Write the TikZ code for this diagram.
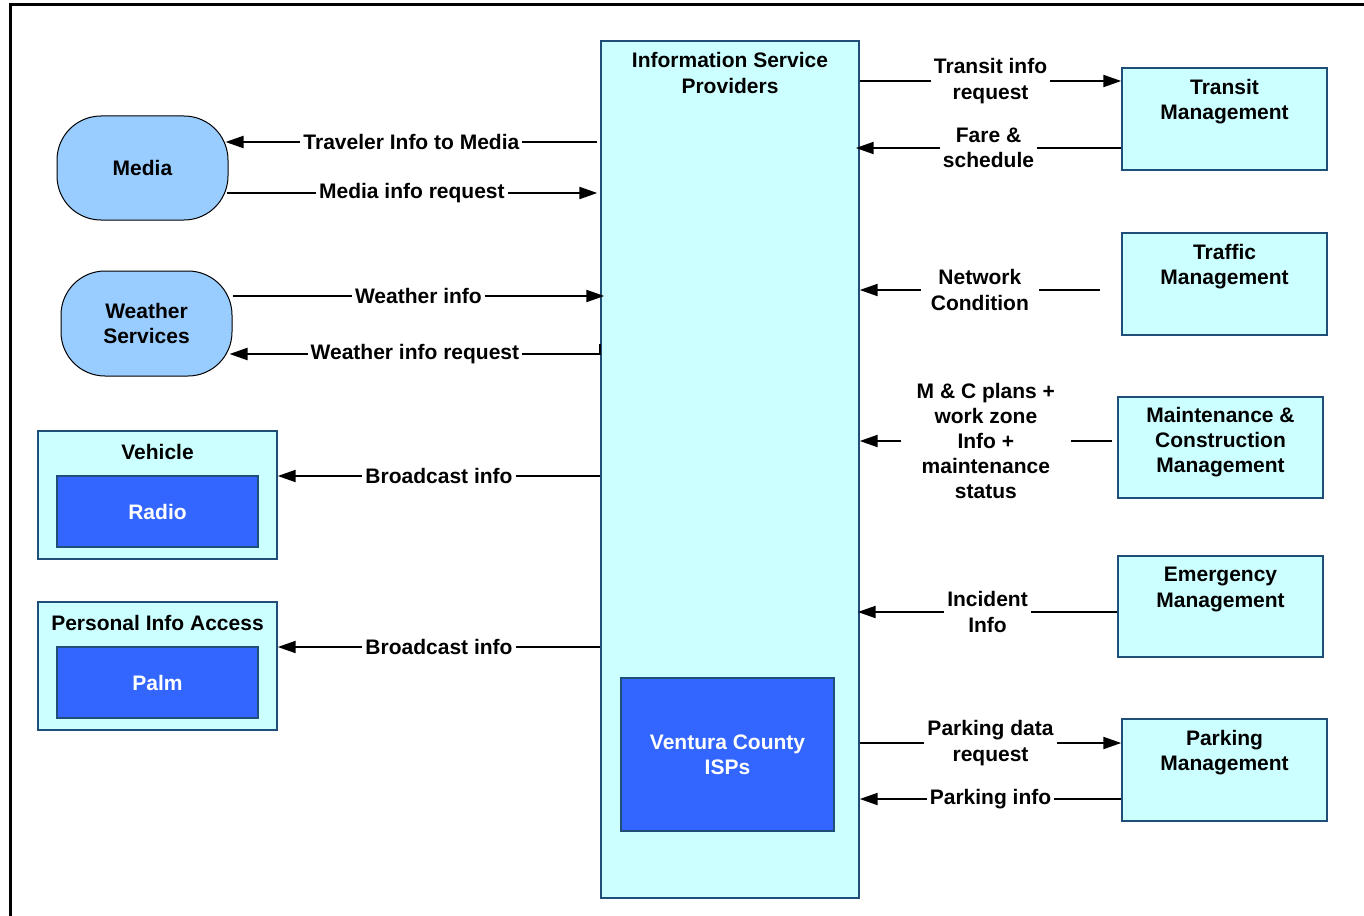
\documentclass[tikz,border=0pt]{standalone}
\usepackage{fontspec}
\setmainfont{Liberation Sans}
\usetikzlibrary{arrows.meta}
\definecolor{cyanfill}{HTML}{CCFFFF}
\definecolor{boxline}{HTML}{1F4E79}
\definecolor{rndfill}{HTML}{99CCFF}
\definecolor{deepblue}{HTML}{3366FF}
\begin{document}
\begin{tikzpicture}[x=0.5pt,y=-0.5pt,
  every node/.style={font=\fontsize{10.5}{12.6}\selectfont\bfseries, align=center},
  cbox/.style={draw=boxline, fill=cyanfill, line width=0.7pt, inner sep=0pt},
  dbox/.style={draw=boxline, fill=deepblue, line width=0.7pt, inner sep=0pt, text=white},
  rbox/.style={draw=black, fill=rndfill, line width=0.5pt, rounded corners=22pt, inner sep=0pt},
  arr/.style={line width=1pt, -{Triangle[length=9pt,width=6pt]}},
  lbl/.style={fill=white, inner sep=1.5pt},
  txt/.style={inner sep=0pt}]
\useasboundingbox (0,0) rectangle (1364,915);
% outer frame
\draw[line width=1.5pt] (10,930) -- (10,5) -- (1380,5);

% central box
\node[cbox, minimum width=129pt, minimum height=428.5pt] (isp) at (730,469.5) {};
\node[txt] (isptitle) at (730,73) {Information Service\\Providers};
\node[dbox, minimum width=106.5pt, minimum height=76.5pt] (ventura) at (727.5,754.5) {Ventura County\\ISPs};

% left side
\node[rbox, minimum width=85.5pt, minimum height=52pt] (media) at (142.5,168) {Media};
\node[rbox, minimum width=85.5pt, minimum height=52.5pt] (weather) at (146.5,323.5) {Weather\\Services};

\node[cbox, minimum width=119.5pt, minimum height=64pt] (vehicle) at (157.5,495) {};
\node[txt] (vehicletitle) at (157.5,452) {Vehicle};
\node[dbox, minimum width=100.5pt, minimum height=35.5pt] (radio) at (157.5,511.5) {Radio};

\node[cbox, minimum width=119.5pt, minimum height=64pt] (pia) at (157.5,666) {};
\node[txt] (piatitle) at (157.5,623) {Personal Info Access};
\node[dbox, minimum width=100.5pt, minimum height=35.5pt] (palm) at (157.5,682.5) {Palm};

% right side
\node[cbox, minimum width=102.5pt, minimum height=51pt] (transit) at (1224.5,119) {};
\node[txt] (transittxt) at (1224.5,101.5) {Transit\\Management};
\node[cbox, minimum width=102.5pt, minimum height=51pt] (traffic) at (1224.5,284) {};
\node[txt] (traffictxt) at (1224.5,266.5) {Traffic\\Management};
\node[cbox, minimum width=102.5pt, minimum height=50.5pt] (mc) at (1220.5,447.5) {};
\node[txt] (mctxt) at (1220.5,442) {Maintenance \&\\Construction\\Management};
\node[cbox, minimum width=102.5pt, minimum height=50.5pt] (emerg) at (1220.5,606.5) {};
\node[txt] (emergtxt) at (1220.5,589.5) {Emergency\\Management};
\node[cbox, minimum width=102.5pt, minimum height=51pt] (parking) at (1224.5,770) {};
\node[txt] (parkingtxt) at (1224.5,752.5) {Parking\\Management};

% left connectors
\draw[arr] ([xshift=-1.5pt]isp.west |- 0,142) -- node[lbl] {Traveler Info to Media} ([xshift=-1.5pt]media.east |- 0,142);
\draw[arr] ([xshift=-1pt]media.east |- 0,193) -- node[lbl] {Media info request} ([xshift=-1.5pt]isp.west |- 0,193);
\draw[arr] (weather.east |- 0,296) -- node[lbl] {Weather info} ([xshift=2pt]isp.west |- 0,296);
\draw[arr] (isp.west |- 0,344) |- node[lbl, pos=0.75] {Weather info request} ([xshift=-1.5pt]weather.east |- 0,354);
\draw[arr] (isp.west |- 0,476) -- node[lbl] {Broadcast info} (vehicle.east |- 0,476);
\draw[arr] (isp.west |- 0,647) -- node[lbl] {Broadcast info} (pia.east |- 0,647);

% right connectors
\draw[arr] (isp.east |- 0,81) -- node[lbl] {Transit info\\request} (transit.west |- 0,81);
\draw[arr] (transit.west |- 0,148) -- node[lbl] {Fare \&\\schedule} ([xshift=-2pt]isp.east |- 0,148);
\coordinate (ncstart) at (1100,290);
\draw[arr] (ncstart) -- node[lbl, inner xsep=5pt] {Network\\Condition} (isp.east |- ncstart);
\coordinate (mcstart) at (1112,441);
\draw[arr] (mcstart) -- node[lbl, inner xsep=8pt] {M \& C plans +\\work zone\\Info +\\maintenance\\status} (isp.east |- mcstart);
\draw[arr] (emerg.west |- 0,612) -- node[lbl] {Incident\\Info} ([xshift=-1pt]isp.east |- 0,612);
\draw[arr] (isp.east |- 0,743) -- node[lbl] {Parking data\\request} (parking.west |- 0,743);
\draw[arr] (parking.west |- 0,799) -- node[lbl] {Parking info} (isp.east |- 0,799);
\end{tikzpicture}
\end{document}
